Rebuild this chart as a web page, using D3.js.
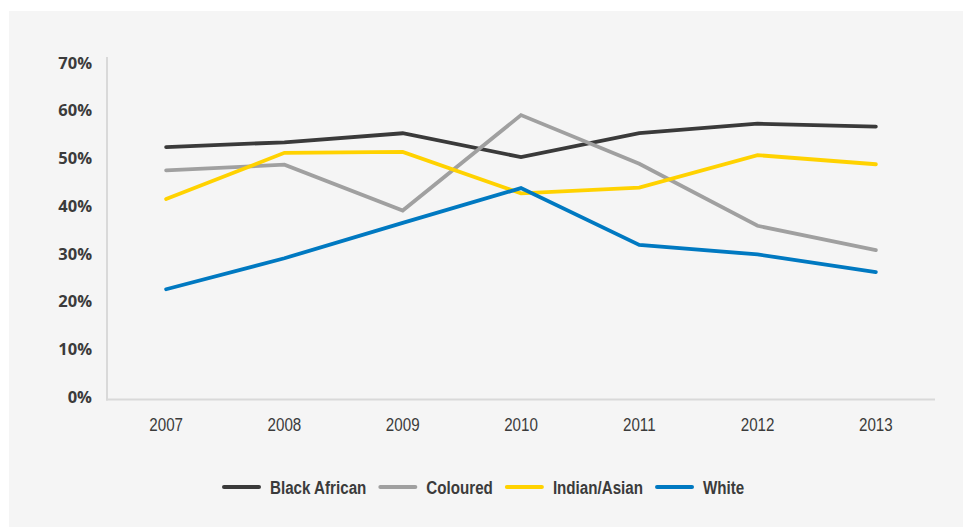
<!DOCTYPE html>
<html>
<head>
<meta charset="utf-8">
<script src="https://cdn.jsdelivr.net/npm/d3@7"></script>
<style>
  html, body { margin: 0; padding: 0; background: #ffffff; }
  svg { display: block; }
</style>
</head>
<body>
<svg id="chart" width="963" height="527"></svg>
<script>
const years = ["2007", "2008", "2009", "2010", "2011", "2012", "2013"];
const seriesNames = ["Black African", "Coloured", "Indian/Asian", "White"];
const blackAfrican = [52.8, 53.8, 55.7, 50.7, 55.7, 57.7, 57.1];
const coloured     = [47.9, 49.1, 39.5, 59.5, 49.3, 36.3, 31.2];
const indianAsian  = [41.9, 51.6, 51.8, 43.1, 44.3, 51.1, 49.2];
const white        = [23.0, 29.5, 36.9, 44.2, 32.3, 30.3, 26.6];
const yTicks = [0, 10, 20, 30, 40, 50, 60, 70];
const colors = ["#3a3a3a", "#a0a0a0", "#ffd200", "#0079c1"];

const seriesValues = [blackAfrican, coloured, indianAsian, white];
const narrow = 0.82;

const svg = d3.select("#chart");

// panel background
svg.append("rect").attr("x", 9).attr("y", 11).attr("width", 954).attr("height", 516).attr("fill", "#f5f5f5");

const x = d3.scaleBand().domain(years).range([107, 935]);
const y = d3.scaleLinear().domain([0, 70]).range([399, 65]);

// y axis
const yAxis = d3.axisLeft(y).tickValues(yTicks).tickFormat(d => d + "%").tickSize(0).tickPadding(15);
const gy = svg.append("g").attr("transform", "translate(107,0)").call(yAxis);
gy.select(".domain").remove();
gy.selectAll("text")
  .attr("font-family", "'Open Sans', sans-serif")
  .attr("font-weight", 700)
  .attr("font-size", 16.5)
  .attr("fill", "#3b3b3b")
  .attr("dy", "0.32em")
  .attr("y", -2);

svg.append("line").attr("x1", 107).attr("x2", 107).attr("y1", 57).attr("y2", 400.5)
  .attr("stroke", "#d9d9d9").attr("stroke-width", 2);

// x axis
const xAxis = d3.axisBottom(x).tickSize(0).tickPadding(19);
const gx = svg.append("g").attr("transform", `translate(0,${y(0)})`).call(xAxis);
gx.select(".domain").remove();
gx.selectAll("text")
  .attr("font-family", "'Liberation Sans', Arial, sans-serif")
  .attr("font-size", 18.5)
  .attr("fill", "#3b3b3b")
  .attr("transform", `scale(${narrow},1)`);

svg.append("line").attr("x1", 106).attr("x2", 935).attr("y1", y(0) + 0.5).attr("y2", y(0) + 0.5)
  .attr("stroke", "#d9d9d9").attr("stroke-width", 2);

// lines
const line = d3.line()
  .x((d, i) => x(years[i]) + x.bandwidth() / 2)
  .y(d => y(d));

seriesValues.forEach((vals, k) => {
  svg.append("path")
    .datum(vals)
    .attr("d", line)
    .attr("fill", "none")
    .attr("stroke", colors[k])
    .attr("stroke-width", 3.8)
    .attr("stroke-linejoin", "miter")
    .attr("stroke-linecap", "round");
});

// legend
const legend = svg.append("g");
let lx = 223;
const ly = 487;
seriesNames.forEach((name, k) => {
  legend.append("line").attr("x1", lx + 1).attr("x2", lx + 36).attr("y1", ly).attr("y2", ly)
    .attr("stroke", colors[k]).attr("stroke-width", 4).attr("stroke-linecap", "round");
  const g = legend.append("g").attr("transform", `translate(${lx + 47},${ly})`);
  const t = g.append("text").attr("x", 0).attr("y", 0).attr("dy", "0.36em")
    .attr("transform", `scale(${narrow},1)`)
    .attr("font-family", "'Liberation Sans', Arial, sans-serif")
    .attr("font-weight", 700).attr("font-size", 18.5).attr("fill", "#3b3b3b").text(name);
  const w = t.node().getComputedTextLength() * narrow;
  lx = lx + 47 + w + 13;
});
</script>
</body>
</html>
